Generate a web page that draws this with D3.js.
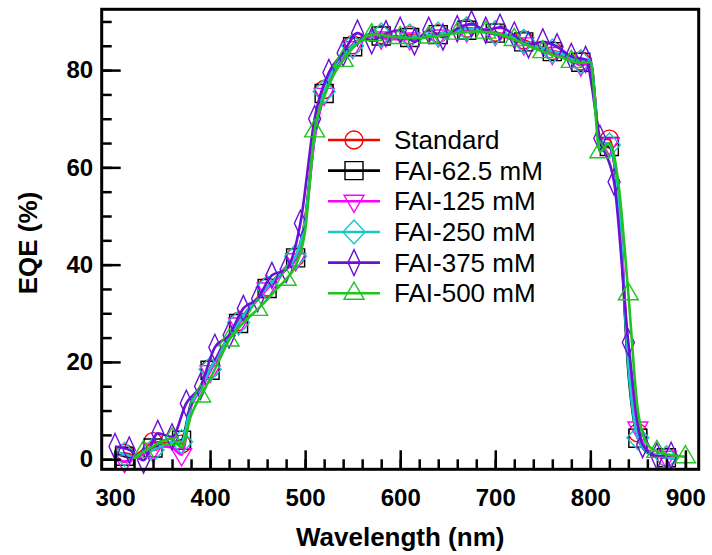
<!DOCTYPE html>
<html>
<head>
<meta charset="utf-8">
<script src="https://cdn.jsdelivr.net/npm/d3@7"></script>
<style>
body { margin: 0; background: #fff; }
svg { display: block; font-family: 'Liberation Sans', Arial, sans-serif; }
</style>
</head>
<body>
<script>
// wavelength grid (nm) shared by five series
const wavelength = [300, 310, 320, 330, 340, 350, 360, 370, 380, 390,
    400, 410, 420, 430, 440, 450, 460, 470, 480, 490,
    500, 510, 520, 530, 540, 550, 560, 570, 580, 590,
    600, 610, 620, 630, 640, 650, 660, 670, 680, 690,
    700, 710, 720, 730, 740, 750, 760, 770, 780, 790,
    800, 810, 820, 830, 840, 850, 860, 870, 880, 890, 900];

// FAI-375 was sampled on a 15 nm grid
const wavelength375 = [300, 315, 330, 345, 360, 375, 390, 405, 420, 435,
    450, 465, 480, 495, 510, 525, 540, 555, 570, 585,
    600, 615, 630, 645, 660, 675, 690, 705, 720, 735,
    750, 765, 780, 795, 810, 825, 840, 855, 870, 885];

const eqeStandard = [1.0, 1.2, 0.8, 2.0, 3.6, 3.4, 3.3, 3.1, 11.0, 14.8,
    18.6, 22.0, 25.4, 28.3, 30.8, 33.2, 35.4, 37.5, 39.6, 41.6,
    49.5, 67.0, 76.0, 80.6, 83.2, 85.2, 86.8, 87.4, 87.3, 87.0,
    86.9, 87.2, 87.0, 87.2, 87.5, 87.9, 88.2, 88.6, 88.5, 88.2,
    87.8, 87.3, 86.8, 86.2, 85.3, 84.6, 84.0, 83.4, 82.6, 81.9,
    82.0, 66.0, 65.8, 53.0, 19.5, 5.4, 1.6, 0.7, 0.4, 0.3, null];

const eqe62 = [1.3, 0.6, 0.3, 1.2, 2.3, 2.9, 3.3, 3.9, 11.5, 14.5,
    18.3, 21.8, 25.2, 27.9, 30.6, 33.0, 35.1, 37.3, 39.3, 41.4,
    49.0, 66.5, 75.2, 80.2, 83.0, 84.8, 86.5, 87.2, 87.0, 86.8,
    86.7, 86.7, 86.8, 87.0, 87.3, 87.7, 88.0, 88.2, 88.2, 88.0,
    87.6, 87.1, 86.5, 85.8, 85.0, 84.4, 83.8, 83.2, 82.4, 81.6,
    81.8, 65.0, 64.3, 52.0, 18.0, 4.3, 1.4, 0.6, 0.3, 0.2, null];

const eqe125 = [0.8, -0.5, 0.2, 1.0, 2.0, 2.6, 2.4, 0.9, 10.8, 14.2,
    18.0, 21.5, 25.0, 27.8, 30.4, 32.8, 35.0, 37.0, 39.0, 41.0,
    48.5, 66.0, 75.0, 80.0, 82.8, 84.6, 86.2, 86.8, 86.6, 86.4,
    86.3, 86.4, 86.5, 86.8, 87.0, 87.4, 87.8, 88.0, 88.0, 87.8,
    87.3, 86.8, 86.2, 85.4, 84.6, 84.0, 83.4, 82.8, 82.0, 81.0,
    81.4, 65.2, 64.8, 53.5, 21.0, 6.4, 2.0, 0.8, 0.4, 0.3, null];

const eqe250 = [1.5, 1.0, 0.5, 1.5, 1.9, 2.8, 3.4, 3.6, 11.2, 14.6,
    18.5, 21.9, 25.3, 28.1, 30.7, 33.1, 35.3, 37.4, 39.5, 41.7,
    49.2, 66.8, 75.6, 80.4, 83.1, 85.0, 86.7, 87.3, 87.2, 86.9,
    86.8, 87.0, 87.0, 87.2, 87.4, 87.8, 88.2, 88.5, 88.4, 88.1,
    87.7, 87.2, 86.6, 85.9, 85.1, 84.5, 83.9, 83.3, 82.5, 81.7,
    81.9, 65.3, 64.6, 52.5, 19.0, 4.4, 1.5, 0.7, 0.3, 0.2, null];

const eqe375 = [2.6, 1.9, -0.2, 5.3, 4.6, 11.5, 15.0, 23.0, 25.5, 31.0,
    33.0, 37.8, 39.0, 48.5, 70.0, 79.5, 83.5, 87.6, 86.0, 87.5,
    88.2, 85.8, 88.2, 86.8, 88.5, 89.5, 88.2, 88.8, 87.2, 85.2,
    85.8, 84.8, 82.8, 82.2, 66.0, 57.0, 24.0, 3.0, 0.6, 0.8];

const eqe500 = [null, null, 0.0, 1.6, 2.6, 3.8, 4.2, 2.4, 9.0, 13.0,
    16.5, 20.5, 24.5, 27.0, 29.0, 30.8, 32.8, 35.0, 37.0, 39.8,
    47.0, 67.5, 74.5, 79.0, 82.0, 84.5, 86.3, 87.3, 87.2, 86.9,
    86.7, 86.6, 86.6, 86.8, 87.0, 87.3, 87.6, 87.8, 87.9, 87.8,
    87.5, 87.0, 86.3, 85.5, 84.6, 83.8, 83.1, 82.6, 81.8, 81.5,
    81.6, 63.2, 65.0, 56.0, 34.0, 10.0, 3.0, 1.6, 1.0, 0.7, 0.5];

const seriesNames = ['Standard', 'FAI-62.5 mM', 'FAI-125 mM', 'FAI-250 mM', 'FAI-375 mM', 'FAI-500 mM'];

const xMajorTicks = [300, 400, 500, 600, 700, 800, 900];
const yMajorTicks = [0, 20, 40, 60, 80];

const series = [
    { name: seriesNames[0], x: wavelength, y: eqeStandard, color: '#ff0000', shape: 'circle', every: 3, offset: 1 },
    { name: seriesNames[1], x: wavelength, y: eqe62, color: '#000000', shape: 'square', every: 3, offset: 1 },
    { name: seriesNames[2], x: wavelength, y: eqe125, color: '#ff00ff', shape: 'triDown', every: 3, offset: 1 },
    { name: seriesNames[3], x: wavelength, y: eqe250, color: '#16c8cc', shape: 'diamond', every: 3, offset: 1 },
    { name: seriesNames[4], x: wavelength375, y: eqe375, color: '#6a10d8', shape: 'thinDiamond', every: 1, offset: 0 },
    { name: seriesNames[5], x: wavelength, y: eqe500, color: '#1fc41f', shape: 'triUp', every: 3, offset: 0 }
];

const width = 712;
const height = 555;
const plotLeft = 101.7, plotRight = 698.7, plotTop = 9.3, plotBottom = 469.3;

const svg = d3.select('body')
    .append('svg')
    .attr('width', width)
    .attr('height', height);

const xScale = d3.scaleLinear().domain([286, 914]).range([plotLeft, plotRight]);
const yScale = d3.scaleLinear().domain([-2.08, 92.5]).range([plotBottom, plotTop]);

// open marker outlines
const markerPath = (shape) => {
    switch (shape) {
        case 'circle': return 'M9,0A9,9 0 1,1 -9,0A9,9 0 1,1 9,0Z';
        case 'square': return 'M-9,-9H9V9H-9Z';
        case 'triDown': return 'M-10,-6H10L0,11Z';
        case 'triUp': return 'M-10,6H10L0,-11Z';
        case 'diamond': return 'M0,-12L11,0L0,12L-11,0Z';
        case 'thinDiamond': return 'M0,-13L6,0L0,13L-6,0Z';
    }
};

const line = d3.line()
    .defined(d => d[1] != null)
    .x(d => xScale(d[0]))
    .y(d => yScale(d[1]))
    .curve(d3.curveMonotoneX);

series.forEach(s => {
    const pts = s.x.map((w, i) => [w, s.y[i]]);
    svg.append('path')
        .datum(pts)
        .attr('fill', 'none')
        .attr('stroke', s.color)
        .attr('stroke-width', 2.6)
        .attr('stroke-linejoin', 'round')
        .attr('d', line);

    svg.append('g')
        .selectAll('path')
        .data(pts.filter((d, i) => d[1] != null && (i - s.offset) % s.every === 0))
        .enter()
        .append('path')
        .attr('transform', d => 'translate(' + xScale(d[0]) + ',' + yScale(d[1]) + ')')
        .attr('d', markerPath(s.shape))
        .attr('fill', 'none')
        .attr('stroke', s.color)
        .attr('stroke-width', 1.4);
});

// axes: ticks point inward, frame drawn separately
const xMinor = d3.range(300, 901, 20);
const yMinor = d3.range(0, 91, 5);

svg.append('g')
    .attr('transform', 'translate(0,' + plotBottom + ')')
    .call(d3.axisBottom(xScale).tickValues(xMinor).tickSize(-10).tickFormat(''))
    .call(g => g.select('.domain').remove());

svg.append('g')
    .attr('transform', 'translate(0,' + plotBottom + ')')
    .call(d3.axisBottom(xScale).tickValues(xMajorTicks).tickSize(-19).tickPadding(20))
    .call(g => g.select('.domain').remove())
    .style('font-size', '24px')
    .style('font-weight', 'bold')
    .style('font-family', "'Liberation Sans', Arial, sans-serif");

svg.append('g')
    .attr('transform', 'translate(' + plotLeft + ',0)')
    .call(d3.axisLeft(yScale).tickValues(yMinor).tickSize(-10).tickFormat(''))
    .call(g => g.select('.domain').remove());

svg.append('g')
    .attr('transform', 'translate(' + plotLeft + ',0)')
    .call(d3.axisLeft(yScale).tickValues(yMajorTicks).tickSize(-19).tickPadding(8.5))
    .call(g => g.select('.domain').remove())
    .style('font-size', '24px')
    .style('font-weight', 'bold')
    .style('font-family', "'Liberation Sans', Arial, sans-serif");

svg.selectAll('.tick line')
    .attr('stroke', '#000')
    .attr('stroke-width', 2.5);

svg.selectAll('.tick text')
    .attr('fill', '#000');

svg.append('rect')
    .attr('x', plotLeft)
    .attr('y', plotTop)
    .attr('width', plotRight - plotLeft)
    .attr('height', plotBottom - plotTop)
    .attr('fill', 'none')
    .attr('stroke', '#000')
    .attr('stroke-width', 3);

svg.append('text')
    .attr('x', (plotLeft + plotRight) / 2)
    .attr('y', 546)
    .attr('text-anchor', 'middle')
    .style('font-size', '26px')
    .style('font-weight', 'bold')
    .text('Wavelength (nm)');

svg.append('text')
    .attr('transform', 'translate(37,243) rotate(-90)')
    .attr('text-anchor', 'middle')
    .style('font-size', '26px')
    .style('font-weight', 'bold')
    .text('EQE (%)');

// legend
const legend = svg.append('g');

series.forEach((s, i) => {
    const ly = 140 + i * 30.65;
    legend.append('line')
        .attr('x1', 328).attr('x2', 380)
        .attr('y1', ly).attr('y2', ly)
        .attr('stroke', s.color)
        .attr('stroke-width', 2.6);
    legend.append('path')
        .attr('transform', 'translate(354,' + ly + ')')
        .attr('d', markerPath(s.shape))
        .attr('fill', 'none')
        .attr('stroke', s.color)
        .attr('stroke-width', 1.4);
    legend.append('text')
        .attr('x', 394)
        .attr('y', ly)
        .attr('dy', '0.35em')
        .style('font-size', '26px')
        .text(s.name);
});
</script>
</body>
</html>
